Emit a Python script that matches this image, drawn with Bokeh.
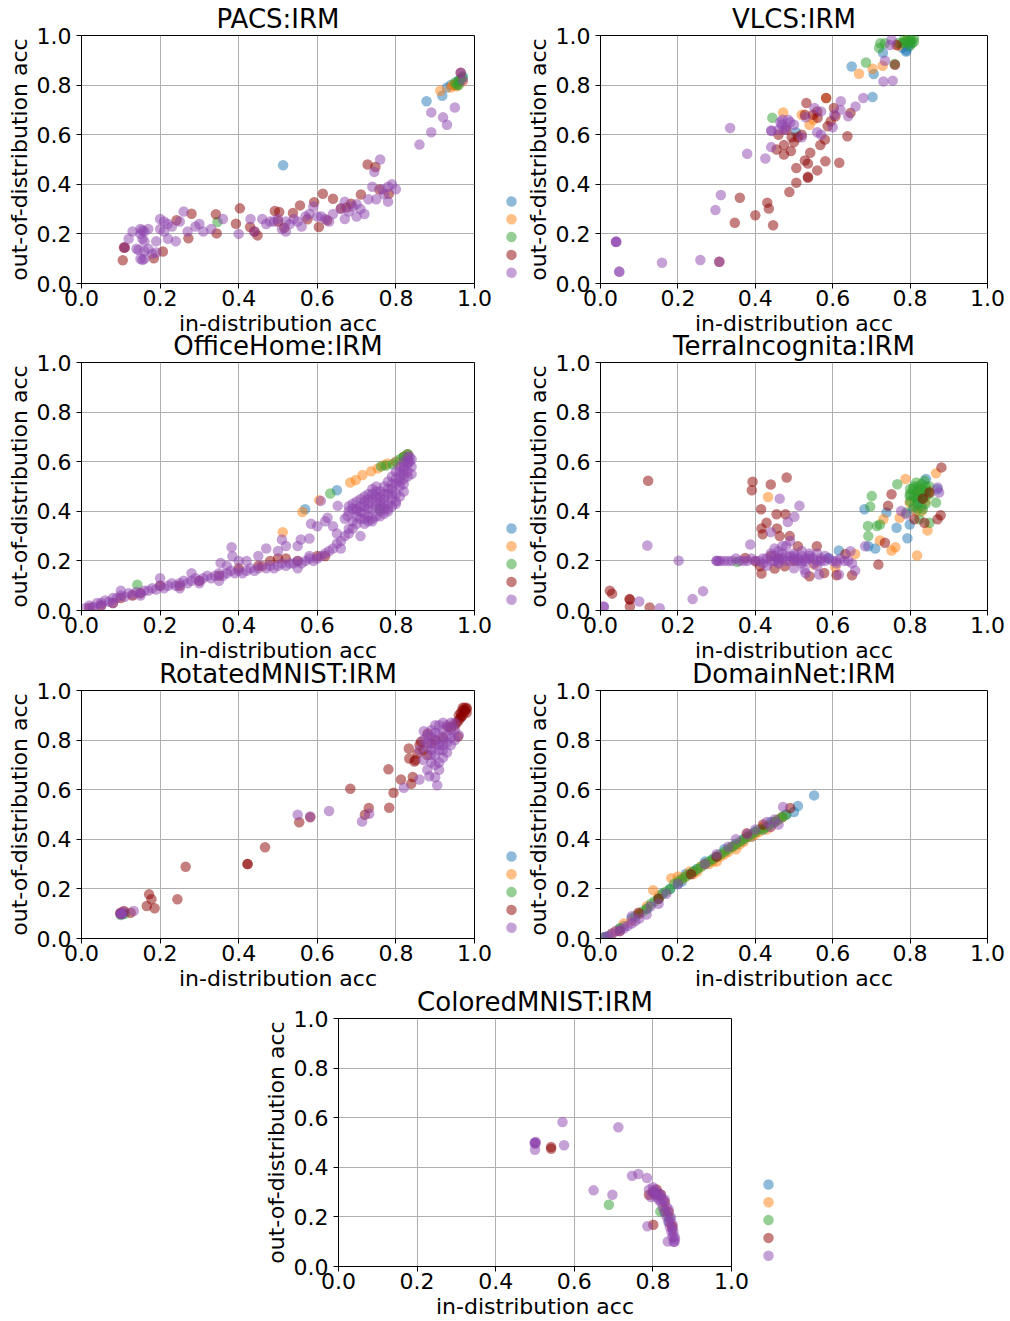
from bokeh.plotting import figure
from bokeh.models import Range1d, FixedTicker, PrintfTickFormatter
from bokeh.layouts import column, row
from bokeh.embed import file_html
from bokeh.resources import INLINE

# ---------------- data (in-distribution acc, out-of-distribution acc) ----------------
COLORS = ["#1f77b4", "#ff7f0e", "#2ca02c", "#8b0000", "#8e44ad"]
TICKS = [0.0, 0.2, 0.4, 0.6, 0.8, 1.0]
TITLES = ["PACS:IRM", "VLCS:IRM", "OfficeHome:IRM", "TerraIncognita:IRM",
          "RotatedMNIST:IRM", "DomainNet:IRM", "ColoredMNIST:IRM"]
X_LABEL = "in-distribution acc"
Y_LABEL = "out-of-distribution acc"

PACS_S0 = [(0.878, 0.735), (0.513, 0.477), (0.918, 0.757), (0.93, 0.79), (0.95, 0.80),
           (0.96, 0.82), (0.97, 0.835), (0.94, 0.80), (0.955, 0.81)]
PACS_S1 = [(0.913, 0.777), (0.94, 0.79), (0.95, 0.80), (0.96, 0.81), (0.955, 0.795),
           (0.965, 0.82), (0.945, 0.80), (0.97, 0.815)]
PACS_S2 = [(0.346, 0.248), (0.95, 0.81), (0.96, 0.815), (0.965, 0.825), (0.97, 0.83),
           (0.955, 0.80), (0.96, 0.80)]
PACS_S3 = [(0.108, 0.145), (0.105, 0.094), (0.184, 0.102), (0.207, 0.129), (0.28, 0.281),
           (0.272, 0.182), (0.342, 0.279), (0.344, 0.202), (0.403, 0.303), (0.393, 0.241),
           (0.429, 0.228), (0.448, 0.194), (0.492, 0.292), (0.503, 0.288), (0.516, 0.225),
           (0.538, 0.284), (0.556, 0.315), (0.592, 0.328), (0.614, 0.362), (0.64, 0.342),
           (0.604, 0.228), (0.66, 0.303), (0.686, 0.322), (0.711, 0.359), (0.728, 0.48),
           (0.748, 0.47), (0.758, 0.379), (0.782, 0.362), (0.575, 0.259), (0.674, 0.306),
           (0.242, 0.255), (0.965, 0.85), (0.11, 0.145), (0.625, 0.255), (0.50, 0.25),
           (0.44, 0.21)]
PACS_S4 = [(0.15, 0.22), (0.155, 0.215), (0.16, 0.21), (0.15, 0.20), (0.155, 0.18),
           (0.16, 0.17), (0.14, 0.14), (0.145, 0.135), (0.15, 0.10), (0.16, 0.10),
           (0.155, 0.095), (0.18, 0.12), (0.19, 0.125), (0.17, 0.14), (0.12, 0.18),
           (0.11, 0.145), (0.13, 0.21), (0.19, 0.17), (0.20, 0.26), (0.21, 0.25),
           (0.22, 0.24), (0.20, 0.22), (0.23, 0.23), (0.25, 0.25), (0.26, 0.29),
           (0.22, 0.18), (0.24, 0.17), (0.27, 0.21), (0.29, 0.23), (0.31, 0.21),
           (0.33, 0.22), (0.36, 0.26), (0.40, 0.20), (0.43, 0.26), (0.44, 0.21),
           (0.46, 0.26), (0.47, 0.24), (0.49, 0.25), (0.50, 0.26), (0.51, 0.22),
           (0.52, 0.21), (0.53, 0.24), (0.54, 0.26), (0.55, 0.25), (0.56, 0.23),
           (0.57, 0.27), (0.58, 0.28), (0.59, 0.31), (0.61, 0.27), (0.62, 0.26),
           (0.63, 0.25), (0.64, 0.28), (0.66, 0.30), (0.67, 0.33), (0.67, 0.26),
           (0.68, 0.29), (0.69, 0.31), (0.70, 0.27), (0.71, 0.30), (0.72, 0.28),
           (0.73, 0.34), (0.74, 0.39), (0.745, 0.45), (0.75, 0.34), (0.76, 0.50),
           (0.765, 0.38), (0.77, 0.36), (0.78, 0.33), (0.78, 0.39), (0.79, 0.40),
           (0.80, 0.38), (0.86, 0.56), (0.89, 0.69), (0.89, 0.61), (0.92, 0.67),
           (0.93, 0.64), (0.95, 0.71), (0.965, 0.85), (0.97, 0.82), (0.16, 0.13),
           (0.17, 0.22), (0.21, 0.21), (0.30, 0.24), (0.48, 0.25), (0.52, 0.25),
           (0.60, 0.27), (0.70, 0.32)]

VLCS_S0 = [(0.649, 0.875), (0.706, 0.845), (0.703, 0.752), (0.79, 0.935), (0.73, 0.93),
           (0.78, 0.95), (0.80, 0.97), (0.79, 0.94), (0.505, 0.61), (0.795, 0.955)]
VLCS_S1 = [(0.472, 0.69), (0.668, 0.846), (0.703, 0.866), (0.729, 0.878), (0.52, 0.68),
           (0.55, 0.66), (0.583, 0.748), (0.77, 0.96), (0.79, 0.98), (0.54, 0.64)]
VLCS_S2 = [(0.444, 0.668), (0.686, 0.891), (0.723, 0.969), (0.735, 0.969), (0.78, 0.97),
           (0.79, 0.98), (0.80, 0.98), (0.81, 0.975), (0.77, 0.97), (0.80, 0.96),
           (0.76, 0.885), (0.72, 0.95), (0.79, 0.97), (0.80, 0.99), (0.81, 0.99),
           (0.785, 0.985), (0.805, 0.97)]
VLCS_S3 = [(0.347, 0.245), (0.36, 0.346), (0.40, 0.275), (0.431, 0.326), (0.435, 0.302),
           (0.446, 0.235), (0.488, 0.369), (0.506, 0.406), (0.506, 0.466), (0.528, 0.496),
           (0.536, 0.484), (0.542, 0.527), (0.536, 0.426), (0.56, 0.456), (0.568, 0.558),
           (0.581, 0.493), (0.58, 0.58), (0.617, 0.487), (0.638, 0.594), (0.474, 0.52),
           (0.492, 0.534), (0.455, 0.54), (0.474, 0.558), (0.494, 0.59), (0.532, 0.728),
           (0.583, 0.748), (0.561, 0.668), (0.595, 0.654), (0.603, 0.708), (0.607, 0.674),
           (0.646, 0.688), (0.587, 0.634), (0.761, 0.882), (0.765, 0.962), (0.549, 0.68),
           (0.528, 0.68), (0.56, 0.694), (0.51, 0.59), (0.50, 0.57), (0.52, 0.60),
           (0.48, 0.62), (0.46, 0.60), (0.307, 0.088), (0.536, 0.43)]
VLCS_S4 = [(0.04, 0.169), (0.04, 0.167), (0.041, 0.168), (0.048, 0.048), (0.049, 0.047),
           (0.159, 0.084), (0.258, 0.095), (0.307, 0.088), (0.297, 0.296), (0.311, 0.357),
           (0.335, 0.627), (0.379, 0.523), (0.426, 0.504), (0.441, 0.55), (0.441, 0.617),
           (0.442, 0.615), (0.468, 0.64), (0.46, 0.62), (0.47, 0.66), (0.48, 0.63),
           (0.49, 0.65), (0.475, 0.62), (0.485, 0.66), (0.50, 0.64), (0.465, 0.65),
           (0.56, 0.61), (0.621, 0.735), (0.659, 0.714), (0.679, 0.748), (0.64, 0.674),
           (0.731, 0.815), (0.735, 0.898), (0.755, 0.818), (0.748, 0.962), (0.752, 0.983),
           (0.604, 0.68), (0.553, 0.708), (0.57, 0.694), (0.57, 0.60), (0.60, 0.63),
           (0.62, 0.70), (0.52, 0.59), (0.53, 0.67)]

OH_S0 = [(0.569, 0.408), (0.65, 0.485), (0.82, 0.62), (0.83, 0.63), (0.80, 0.60)]
OH_S1 = [(0.512, 0.316), (0.562, 0.397), (0.605, 0.445), (0.684, 0.516), (0.698, 0.526),
         (0.715, 0.546), (0.737, 0.561), (0.754, 0.573), (0.768, 0.586), (0.779, 0.593),
         (0.80, 0.60), (0.82, 0.62), (0.83, 0.63), (0.46, 0.178)]
OH_S2 = [(0.633, 0.472), (0.762, 0.581), (0.792, 0.59), (0.81, 0.61), (0.82, 0.62),
         (0.83, 0.63), (0.142, 0.104), (0.758, 0.408), (0.775, 0.585)]
OH_S3 = [(0.02, 0.01), (0.05, 0.02), (0.08, 0.03), (0.10, 0.05), (0.13, 0.06), (0.15, 0.07),
         (0.20, 0.10), (0.25, 0.10), (0.30, 0.12), (0.35, 0.14), (0.40, 0.17), (0.45, 0.18),
         (0.48, 0.20), (0.50, 0.21), (0.52, 0.21), (0.55, 0.20), (0.60, 0.22), (0.62, 0.22)]
OH_S4 = [(0.01, 0.01), (0.02, 0.02), (0.03, 0.015), (0.04, 0.03), (0.05, 0.03), (0.06, 0.04),
         (0.07, 0.035), (0.08, 0.05), (0.09, 0.05), (0.10, 0.06), (0.11, 0.055), (0.12, 0.07),
         (0.13, 0.065), (0.14, 0.075), (0.15, 0.07), (0.16, 0.08), (0.17, 0.08), (0.18, 0.09),
         (0.19, 0.085), (0.20, 0.10), (0.21, 0.09), (0.22, 0.10), (0.23, 0.11), (0.24, 0.10),
         (0.25, 0.11), (0.26, 0.12), (0.27, 0.11), (0.28, 0.12), (0.29, 0.13), (0.30, 0.12),
         (0.31, 0.13), (0.32, 0.14), (0.33, 0.13), (0.34, 0.14), (0.35, 0.15), (0.36, 0.14),
         (0.37, 0.15), (0.38, 0.16), (0.39, 0.15), (0.40, 0.16), (0.41, 0.15), (0.42, 0.16),
         (0.43, 0.17), (0.44, 0.16), (0.45, 0.17), (0.46, 0.18), (0.47, 0.17), (0.48, 0.18),
         (0.49, 0.17), (0.50, 0.18), (0.51, 0.19), (0.52, 0.18), (0.53, 0.19), (0.54, 0.19),
         (0.55, 0.20), (0.56, 0.19), (0.57, 0.20), (0.58, 0.21), (0.59, 0.20), (0.60, 0.21),
         (0.61, 0.22), (0.62, 0.23), (0.63, 0.24), (0.64, 0.25), (0.65, 0.27), (0.66, 0.28),
         (0.67, 0.30), (0.68, 0.31), (0.69, 0.33), (0.70, 0.35), (0.71, 0.37),
         (0.10, 0.08), (0.20, 0.13), (0.28, 0.15), (0.37, 0.18), (0.382, 0.255), (0.384, 0.219),
         (0.354, 0.192), (0.40, 0.20), (0.42, 0.20), (0.45, 0.22), (0.47, 0.25), (0.50, 0.24),
         (0.51, 0.286), (0.52, 0.26), (0.55, 0.26), (0.558, 0.286), (0.58, 0.29), (0.584, 0.35),
         (0.60, 0.34), (0.609, 0.442), (0.62, 0.36), (0.626, 0.374), (0.64, 0.34), (0.65, 0.31),
         (0.652, 0.422), (0.67, 0.37), (0.677, 0.381), (0.68, 0.33), (0.69, 0.36), (0.70, 0.38),
         (0.72, 0.35), (0.73, 0.38), (0.71, 0.30), (0.66, 0.25), (0.58, 0.22), (0.55, 0.17),
         (0.35, 0.12), (0.30, 0.11), (0.25, 0.09), (0.15, 0.06), (0.05, 0.02), (0.08, 0.03),
         (0.03, 0.01), (0.68, 0.42), (0.69, 0.43), (0.70, 0.44), (0.71, 0.45), (0.72, 0.42),
         (0.72, 0.46), (0.73, 0.43), (0.73, 0.47), (0.74, 0.41), (0.74, 0.45), (0.74, 0.49),
         (0.75, 0.42), (0.75, 0.46), (0.75, 0.50), (0.76, 0.40), (0.76, 0.44), (0.76, 0.48),
         (0.77, 0.41), (0.77, 0.45), (0.77, 0.50), (0.78, 0.43), (0.78, 0.47), (0.78, 0.52),
         (0.79, 0.45), (0.79, 0.49), (0.79, 0.54), (0.80, 0.47), (0.80, 0.51), (0.80, 0.56),
         (0.81, 0.50), (0.81, 0.54), (0.81, 0.58), (0.82, 0.53), (0.82, 0.57), (0.82, 0.60),
         (0.83, 0.56), (0.83, 0.59), (0.83, 0.62), (0.84, 0.58), (0.84, 0.61), (0.76, 0.38),
         (0.78, 0.40), (0.80, 0.44), (0.82, 0.48), (0.72, 0.39), (0.74, 0.36),
         (0.68, 0.40), (0.69, 0.41), (0.70, 0.41), (0.71, 0.42), (0.72, 0.44), (0.73, 0.45),
         (0.74, 0.47), (0.75, 0.48), (0.76, 0.46), (0.77, 0.47), (0.78, 0.49), (0.79, 0.51),
         (0.80, 0.53), (0.81, 0.56), (0.82, 0.55), (0.83, 0.60), (0.835, 0.60), (0.72, 0.37),
         (0.73, 0.36), (0.74, 0.37), (0.75, 0.38), (0.76, 0.42), (0.77, 0.39), (0.78, 0.41),
         (0.79, 0.42), (0.80, 0.43), (0.81, 0.46), (0.82, 0.51), (0.83, 0.54), (0.84, 0.55),
         (0.70, 0.40), (0.71, 0.40), (0.73, 0.41), (0.75, 0.44), (0.77, 0.43), (0.79, 0.47),
         (0.81, 0.52), (0.82, 0.58), (0.835, 0.62)]

TI_S0 = [(0.682, 0.408), (0.765, 0.334), (0.793, 0.291), (0.71, 0.25), (0.692, 0.259),
         (0.616, 0.242), (0.799, 0.347), (0.807, 0.408), (0.841, 0.53), (0.871, 0.489),
         (0.739, 0.395), (0.589, 0.212), (0.82, 0.45), (0.83, 0.42)]
TI_S1 = [(0.433, 0.458), (0.867, 0.553), (0.788, 0.53), (0.818, 0.222), (0.752, 0.242),
         (0.762, 0.255), (0.722, 0.282), (0.845, 0.323), (0.824, 0.489), (0.85, 0.482),
         (0.799, 0.435), (0.816, 0.401), (0.731, 0.368), (0.773, 0.374), (0.607, 0.174),
         (0.658, 0.228), (0.552, 0.185), (0.82, 0.47), (0.84, 0.44), (0.83, 0.40)]
TI_S2 = [(0.767, 0.509), (0.701, 0.462), (0.697, 0.419), (0.691, 0.341), (0.692, 0.30),
         (0.714, 0.341), (0.722, 0.347), (0.816, 0.516), (0.837, 0.523), (0.841, 0.482),
         (0.867, 0.435), (0.833, 0.408), (0.799, 0.462), (0.816, 0.449), (0.807, 0.489),
         (0.824, 0.368), (0.85, 0.354), (0.79, 0.395), (0.353, 0.196), (0.82, 0.46),
         (0.83, 0.47), (0.81, 0.50), (0.84, 0.50), (0.82, 0.43), (0.80, 0.47), (0.83, 0.51),
         (0.80, 0.44), (0.81, 0.42), (0.82, 0.48), (0.83, 0.45), (0.84, 0.46), (0.85, 0.47),
         (0.82, 0.50), (0.81, 0.46), (0.83, 0.49), (0.84, 0.43), (0.80, 0.49), (0.85, 0.50),
         (0.82, 0.41)]
TI_S3 = [(0.123, 0.523), (0.024, 0.08), (0.03, 0.068), (0.075, 0.046), (0.076, 0.044),
         (0.076, 0.016), (0.127, 0.012), (0.393, 0.519), (0.391, 0.485), (0.44, 0.508),
         (0.481, 0.536), (0.415, 0.408), (0.416, 0.331), (0.419, 0.307), (0.429, 0.354),
         (0.455, 0.388), (0.456, 0.331), (0.478, 0.388), (0.463, 0.30), (0.489, 0.30),
         (0.416, 0.149), (0.412, 0.178), (0.45, 0.169), (0.476, 0.178), (0.51, 0.259),
         (0.54, 0.138), (0.559, 0.259), (0.578, 0.151), (0.61, 0.142), (0.633, 0.228),
         (0.65, 0.142), (0.718, 0.185), (0.735, 0.273), (0.752, 0.469), (0.743, 0.422),
         (0.833, 0.451), (0.85, 0.476), (0.881, 0.577), (0.879, 0.384), (0.871, 0.368),
         (0.837, 0.354), (0.811, 0.368), (0.374, 0.212), (0.40, 0.199), (0.46, 0.21),
         (0.50, 0.20), (0.44, 0.22)]
TI_S4 = [(0.121, 0.262), (0.202, 0.201), (0.238, 0.046), (0.265, 0.078), (0.10, 0.036),
         (0.153, 0.009), (0.008, 0.016), (0.009, 0.014), (0.30, 0.20), (0.30, 0.201),
         (0.305, 0.20), (0.31, 0.20), (0.32, 0.20), (0.387, 0.266), (0.463, 0.451),
         (0.514, 0.422), (0.501, 0.378), (0.484, 0.357), (0.44, 0.316), (0.36, 0.20),
         (0.38, 0.20), (0.40, 0.20), (0.42, 0.21), (0.44, 0.20), (0.45, 0.22), (0.46, 0.21),
         (0.47, 0.23), (0.48, 0.20), (0.49, 0.22), (0.50, 0.21), (0.51, 0.20), (0.52, 0.22),
         (0.53, 0.20), (0.54, 0.21), (0.55, 0.19), (0.56, 0.20), (0.57, 0.21), (0.58, 0.20),
         (0.60, 0.20), (0.62, 0.21), (0.63, 0.20), (0.64, 0.20), (0.65, 0.19), (0.45, 0.25),
         (0.47, 0.26), (0.43, 0.18), (0.50, 0.17), (0.53, 0.15), (0.52, 0.24), (0.56, 0.23),
         (0.48, 0.26), (0.49, 0.28), (0.527, 0.165), (0.565, 0.145), (0.616, 0.145),
         (0.658, 0.161), (0.684, 0.259), (0.646, 0.239), (0.871, 0.496), (0.777, 0.401),
         (0.79, 0.388), (0.875, 0.476), (0.46, 0.20), (0.48, 0.22), (0.50, 0.22),
         (0.52, 0.20), (0.54, 0.22), (0.58, 0.22), (0.61, 0.19), (0.33, 0.20), (0.34, 0.20),
         (0.35, 0.21), (0.37, 0.20), (0.39, 0.21), (0.41, 0.20), (0.43, 0.21), (0.45, 0.20),
         (0.47, 0.21), (0.49, 0.20), (0.51, 0.21), (0.53, 0.21), (0.55, 0.21), (0.57, 0.20),
         (0.59, 0.21), (0.61, 0.20), (0.44, 0.23), (0.46, 0.24), (0.50, 0.23), (0.54, 0.23),
         (0.42, 0.19), (0.46, 0.19), (0.52, 0.19), (0.56, 0.18)]

RM_S0 = [(0.10, 0.10), (0.105, 0.10)]
RM_S1 = [(0.10, 0.10)]
RM_S2 = [(0.10, 0.095), (0.11, 0.10)]
RM_S3 = [(0.172, 0.178), (0.178, 0.158), (0.166, 0.131), (0.186, 0.122), (0.244, 0.158),
         (0.265, 0.289), (0.422, 0.30), (0.423, 0.30), (0.467, 0.368), (0.554, 0.469),
         (0.582, 0.489), (0.684, 0.604), (0.721, 0.499), (0.731, 0.526), (0.781, 0.682),
         (0.783, 0.527), (0.794, 0.588), (0.813, 0.641), (0.839, 0.624), (0.843, 0.651),
         (0.834, 0.726), (0.833, 0.766), (0.847, 0.714), (0.855, 0.746), (0.864, 0.793),
         (0.89, 0.786), (0.881, 0.827), (0.958, 0.814), (0.932, 0.854), (0.966, 0.895),
         (0.099, 0.104), (0.108, 0.111), (0.125, 0.104), (0.96, 0.90), (0.965, 0.91),
         (0.97, 0.92), (0.975, 0.93), (0.98, 0.925), (0.97, 0.90), (0.975, 0.915),
         (0.965, 0.89), (0.98, 0.91), (0.96, 0.88), (0.97, 0.93), (0.955, 0.87),
         (0.95, 0.86), (0.94, 0.85), (0.975, 0.92), (0.98, 0.93), (0.86, 0.78),
         (0.87, 0.76), (0.88, 0.74), (0.85, 0.72), (0.90, 0.80), (0.92, 0.81)]
RM_S4 = [(0.099, 0.10), (0.10, 0.10), (0.101, 0.102), (0.102, 0.098), (0.108, 0.108),
         (0.133, 0.111), (0.55, 0.499), (0.582, 0.492), (0.63, 0.514), (0.714, 0.472),
         (0.732, 0.503), (0.82, 0.608), (0.86, 0.641), (0.885, 0.654), (0.905, 0.618),
         (0.871, 0.836), (0.89, 0.81), (0.90, 0.78), (0.91, 0.76), (0.92, 0.80), (0.93, 0.79),
         (0.94, 0.84), (0.90, 0.83), (0.91, 0.86), (0.93, 0.86), (0.95, 0.84), (0.92, 0.73),
         (0.91, 0.71), (0.90, 0.70), (0.89, 0.74), (0.88, 0.77), (0.86, 0.76), (0.87, 0.72),
         (0.88, 0.68), (0.90, 0.65), (0.92, 0.76), (0.94, 0.87), (0.95, 0.87), (0.96, 0.82),
         (0.87, 0.80), (0.88, 0.82), (0.89, 0.84), (0.90, 0.80), (0.91, 0.82), (0.92, 0.84),
         (0.93, 0.82), (0.94, 0.81), (0.91, 0.78), (0.92, 0.78), (0.89, 0.76), (0.90, 0.74),
         (0.93, 0.75), (0.88, 0.79), (0.95, 0.80), (0.92, 0.87), (0.90, 0.86), (0.94, 0.78),
         (0.91, 0.68), (0.89, 0.71)]

DN_S0 = [(0.552, 0.577), (0.51, 0.534), (0.48, 0.50), (0.45, 0.47), (0.40, 0.43), (0.35, 0.38),
         (0.30, 0.33), (0.25, 0.28), (0.20, 0.22), (0.15, 0.16), (0.10, 0.10), (0.05, 0.04),
         (0.02, 0.01), (0.27, 0.31), (0.22, 0.26), (0.32, 0.36), (0.42, 0.44), (0.37, 0.40),
         (0.12, 0.12), (0.18, 0.20), (0.08, 0.08), (0.21, 0.23), (0.24, 0.27), (0.29, 0.32),
         (0.34, 0.37), (0.39, 0.41), (0.44, 0.47), (0.47, 0.49), (0.50, 0.51), (0.16, 0.18),
         (0.06, 0.05), (0.03, 0.02), (0.01, 0.005)]
DN_S1 = [(0.136, 0.195), (0.183, 0.243), (0.20, 0.25), (0.22, 0.25), (0.25, 0.27), (0.28, 0.30),
         (0.30, 0.31), (0.33, 0.35), (0.37, 0.39), (0.38, 0.41), (0.40, 0.42), (0.43, 0.44),
         (0.45, 0.47), (0.47, 0.49), (0.15, 0.17), (0.10, 0.10), (0.06, 0.06), (0.03, 0.02),
         (0.26, 0.29), (0.35, 0.36), (0.29, 0.31), (0.31, 0.33), (0.21, 0.24), (0.23, 0.27),
         (0.24, 0.26), (0.27, 0.30), (0.32, 0.34), (0.34, 0.37), (0.36, 0.38), (0.39, 0.41),
         (0.41, 0.43), (0.44, 0.45), (0.42, 0.45), (0.46, 0.48), (0.12, 0.13), (0.08, 0.07),
         (0.04, 0.03)]
DN_S2 = [(0.01, 0.005), (0.05, 0.04), (0.09, 0.09), (0.12, 0.12), (0.15, 0.16), (0.18, 0.20),
         (0.20, 0.23), (0.22, 0.25), (0.24, 0.27), (0.26, 0.29), (0.28, 0.31), (0.30, 0.33),
         (0.32, 0.35), (0.34, 0.37), (0.36, 0.39), (0.38, 0.41), (0.40, 0.43), (0.42, 0.44),
         (0.44, 0.46), (0.46, 0.48), (0.48, 0.50), (0.21, 0.24), (0.23, 0.26), (0.19, 0.22),
         (0.25, 0.28), (0.27, 0.30), (0.29, 0.32), (0.31, 0.34), (0.33, 0.36), (0.35, 0.38),
         (0.37, 0.40), (0.39, 0.42), (0.41, 0.44), (0.43, 0.45), (0.45, 0.47), (0.47, 0.49),
         (0.16, 0.18), (0.17, 0.19), (0.14, 0.15), (0.13, 0.14), (0.11, 0.11)]
DN_S3 = [(0.098, 0.104), (0.234, 0.259), (0.378, 0.424), (0.49, 0.526), (0.05, 0.03),
         (0.15, 0.16), (0.30, 0.33), (0.42, 0.46)]
DN_S4 = [(0.472, 0.53), (0.45, 0.48), (0.43, 0.47), (0.46, 0.46), (0.38, 0.42), (0.35, 0.40),
         (0.30, 0.34), (0.20, 0.22), (0.13, 0.13), (0.119, 0.097), (0.081, 0.09), (0.06, 0.04),
         (0.04, 0.03), (0.02, 0.01), (0.01, 0.005), (0.03, 0.02), (0.05, 0.03), (0.07, 0.05),
         (0.09, 0.07), (0.08, 0.06), (0.10, 0.08), (0.15, 0.14), (0.17, 0.18), (0.27, 0.30),
         (0.33, 0.37), (0.40, 0.44), (0.44, 0.45)]

CM_S0 = [(0.83, 0.22), (0.84, 0.18)]
CM_S1 = [(0.83, 0.23), (0.845, 0.17)]
CM_S2 = [(0.688, 0.249), (0.819, 0.222), (0.84, 0.20)]
CM_S3 = [(0.541, 0.482), (0.541, 0.475), (0.801, 0.168), (0.79, 0.289), (0.80, 0.30),
         (0.81, 0.31), (0.82, 0.29), (0.83, 0.26), (0.84, 0.22), (0.85, 0.16), (0.81, 0.29),
         (0.805, 0.295)]
CM_S4 = [(0.499, 0.498), (0.50, 0.50), (0.501, 0.495), (0.502, 0.502), (0.50, 0.471),
         (0.57, 0.583), (0.574, 0.489), (0.712, 0.561), (0.649, 0.307), (0.697, 0.289),
         (0.747, 0.366), (0.763, 0.373), (0.785, 0.357), (0.786, 0.162), (0.838, 0.101),
         (0.80, 0.30), (0.805, 0.29), (0.81, 0.28), (0.815, 0.27), (0.82, 0.26), (0.825, 0.24),
         (0.83, 0.22), (0.835, 0.20), (0.84, 0.18), (0.843, 0.16), (0.847, 0.14), (0.85, 0.12),
         (0.853, 0.10), (0.855, 0.10), (0.81, 0.30), (0.82, 0.29), (0.83, 0.27), (0.84, 0.23),
         (0.845, 0.20), (0.85, 0.17), (0.852, 0.14), (0.856, 0.11), (0.80, 0.32), (0.79, 0.31),
         (0.795, 0.28), (0.805, 0.31), (0.815, 0.29), (0.825, 0.27), (0.835, 0.24),
         (0.845, 0.19), (0.85, 0.15), (0.855, 0.12)]

SERIES = [
    [PACS_S0, PACS_S1, PACS_S2, PACS_S3, PACS_S4],
    [VLCS_S0, VLCS_S1, VLCS_S2, VLCS_S3, VLCS_S4],
    [OH_S0, OH_S1, OH_S2, OH_S3, OH_S4],
    [TI_S0, TI_S1, TI_S2, TI_S3, TI_S4],
    [RM_S0, RM_S1, RM_S2, RM_S3, RM_S4],
    [DN_S0, DN_S1, DN_S2, DN_S3, DN_S4],
    [CM_S0, CM_S1, CM_S2, CM_S3, CM_S4],
]

# ---------------- styling / layout constants ----------------
FONT = "DejaVu Sans"
FRAME_W = 393
FRAME_H = 248
MARKER = 10.5
ALPHA = 0.5
KEY_DX = 37        # legend key distance right of the frame (px)
KEY_DY = 166       # first key below frame top (px)
KEY_PITCH = 17.8   # vertical distance between keys (px)
KEY_W = 30
ROW_OVERLAP = 14   # rows overlap slightly (like the tight matplotlib layout)


def make_plot(title, series, width, height, bl, br, bt, bb):
    p = figure(width=width, height=height, x_range=Range1d(0, 1), y_range=Range1d(0, 1),
               output_backend="svg", toolbar_location=None,
               min_border_left=bl, min_border_right=br, min_border_top=bt,
               min_border_bottom=bb, title=title)
    p.background_fill_color = "white"
    p.border_fill_color = "white"
    p.border_fill_alpha = 0.0
    p.outline_line_color = "black"
    p.outline_line_width = 1
    p.outline_line_alpha = 1.0
    p.title.text_font = FONT
    p.title.text_font_size = "26px"
    p.title.text_font_style = "normal"
    p.title.text_color = "black"
    p.title.align = "center"
    p.title.standoff = 3
    p.grid.grid_line_color = "#b0b0b0"
    p.grid.grid_line_width = 1
    for ax in (p.xaxis[0], p.yaxis[0]):
        ax.ticker = FixedTicker(ticks=TICKS)
        ax.formatter = PrintfTickFormatter(format="%.1f")
        ax.major_label_text_font = FONT
        ax.major_label_text_font_size = "22px"
        ax.major_label_text_color = "black"
        ax.axis_label_text_font = FONT
        ax.axis_label_text_font_size = "22px"
        ax.axis_label_text_font_style = "normal"
        ax.axis_label_text_color = "black"
        ax.minor_tick_line_color = None
        ax.major_tick_in = 0
        ax.major_tick_out = 5
        ax.major_tick_line_color = "black"
        ax.axis_line_color = "black"
    p.xaxis.axis_label = X_LABEL
    p.yaxis.axis_label = Y_LABEL
    p.xaxis.major_label_standoff = 1
    p.xaxis.axis_label_standoff = 2
    p.yaxis.major_label_standoff = 5
    p.yaxis.axis_label_standoff = 2

    for pts, color in zip(series, COLORS):
        xs = [pt[0] for pt in pts]
        ys = [pt[1] for pt in pts]
        p.scatter(xs, ys, size=MARKER, fill_color=color, fill_alpha=ALPHA, line_color=None)
    return p


def make_key(height, bt, bb, cx):
    """Legend key column (markers only, no labels); frame aligned with the neighbour plot,
    ranges expressed in frame pixels."""
    k = figure(width=KEY_W, height=height, x_range=Range1d(0, KEY_W),
               y_range=Range1d(FRAME_H, 0), output_backend="svg", toolbar_location=None,
               min_border_left=0, min_border_right=0, min_border_top=bt,
               min_border_bottom=bb, x_axis_type=None, y_axis_type=None, title=None)
    k.grid.visible = False
    k.outline_line_color = None
    k.background_fill_alpha = 0.0
    k.border_fill_alpha = 0.0
    ys = [KEY_DY + i * KEY_PITCH for i in range(len(COLORS))]
    k.scatter([cx] * len(COLORS), ys, size=MARKER, fill_color=COLORS, fill_alpha=ALPHA,
              line_color=None)
    return k


LEFT_BL, RIGHT_BL = 81, 72
LEFT_W = LEFT_BL + FRAME_W + 18          # 492
RIGHT_W = 1010 - LEFT_W - KEY_W          # 488
ROW_SPECS = [(35, 58), (35, 59), (35, 59)]  # (top border, bottom border)
rows = []
for i, (bt, bb) in enumerate(ROW_SPECS):
    h = bt + FRAME_H + bb
    left = make_plot(TITLES[2 * i], SERIES[2 * i], LEFT_W, h, LEFT_BL,
                     LEFT_W - LEFT_BL - FRAME_W, bt, bb)
    key = make_key(h, bt, bb, LEFT_BL + FRAME_W + KEY_DX - LEFT_W)
    right = make_plot(TITLES[2 * i + 1], SERIES[2 * i + 1], RIGHT_W, h, RIGHT_BL,
                      RIGHT_W - RIGHT_BL - FRAME_W, bt, bb)
    margin = (0, 0, 0, 0) if i == 0 else (-ROW_OVERLAP, 0, 0, 0)
    rows.append(row(left, key, right, spacing=0, margin=margin))

B_BL, B_BT, B_BB = 338, 35, 55
B_W = B_BL + FRAME_W + 20
bh = B_BT + FRAME_H + B_BB
bottom = make_plot(TITLES[6], SERIES[6], B_W, bh, B_BL, B_W - B_BL - FRAME_W, B_BT, B_BB)
bkey = make_key(bh, B_BT, B_BB, B_BL + FRAME_W + KEY_DX - B_W)
rows.append(row(bottom, bkey, spacing=0, margin=(-ROW_OVERLAP, 0, 0, 0)))

layout = column(*rows, spacing=0)
open("out.html", "w").write(file_html(layout, INLINE))
